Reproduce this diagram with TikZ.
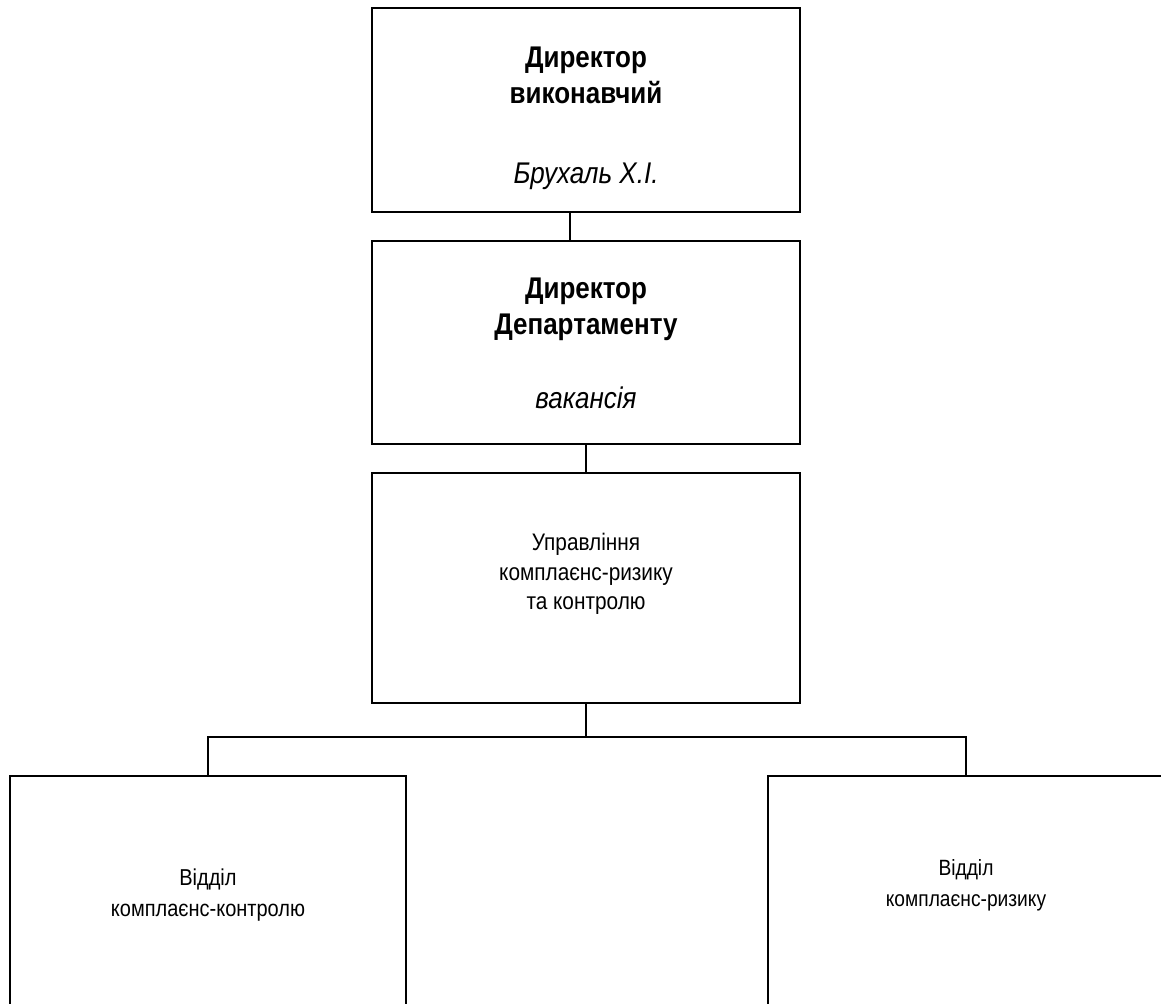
\documentclass[tikz,border=0pt]{standalone}
\usepackage{fontspec}
\setmainfont{Liberation Sans}
\usetikzlibrary{positioning}
\tikzset{
  posada/.style={draw, line width=1pt, minimum width=214pt, align=center, inner sep=0pt,
    font=\fontsize{13}{15.5}\selectfont},
  viddil/.style={draw, line width=1pt, minimum width=198pt, minimum height=115pt, align=center, inner sep=0pt,
    font=\fontsize{10}{13.5}\selectfont},
  zv/.style={line width=1pt}
}
% текст у блоках трохи витягнутий по вертикалі, [зсув] опускає його
\newcommand{\napys}[2][0pt]{\raisebox{#1}[\height][\depth]{\scalebox{1}[1.15]{\begin{tabular}{@{}c@{}}#2\end{tabular}}}}

\begin{document}
\begin{tikzpicture}[x=0.5pt,y=-0.5pt, line join=miter]
	\useasboundingbox (0,0) rectangle (1161,1003);
	\clip (0,0) rectangle (1161,1003);
	% Керівництво
	\node[posada, minimum height=102pt] (dirvyk) at (586,110)
		{\napys[-4.2pt]{\bfseries Директор\\ \bfseries виконавчий\\[19.5pt] \itshape Брухаль Х.І.}};
	\node[posada, minimum height=101.5pt, below=13.5pt of dirvyk] (dirdep)
		{\napys[-2pt]{\bfseries Директор\\ \bfseries Департаменту\\[17pt] \itshape вакансія}};
	\node[posada, minimum height=115pt, below=13.5pt of dirdep, font=\fontsize{10.4}{13}\selectfont] (upr)
		{\napys[-0.5pt]{Управління\\ комплаєнс-ризику\\ та контролю\\ ~}};
	% Відділи
	\node[viddil] (vkk) at (208,891) {\napys[-2pt]{Відділ\\ комплаєнс-контролю}};
	\node[viddil, font=\fontsize{9.6}{13.5}\selectfont] (vkr) at (966,891)
		{\napys[-2pt]{Відділ\\ комплаєнс-ризику\\[-5pt] ~}};
	\coordinate (rozg) at (586,737);
	% Зв'язки
	\draw[zv] ([xshift=-8pt]dirvyk.south) -- ([xshift=-8pt]dirdep.north);
	\draw[zv] (dirdep.south) -- (upr.north);
	\draw[zv] (upr.south) -- (rozg);
	\draw[zv] (vkk.north) |- (rozg) -| (vkr.north);
\end{tikzpicture}
\end{document}
